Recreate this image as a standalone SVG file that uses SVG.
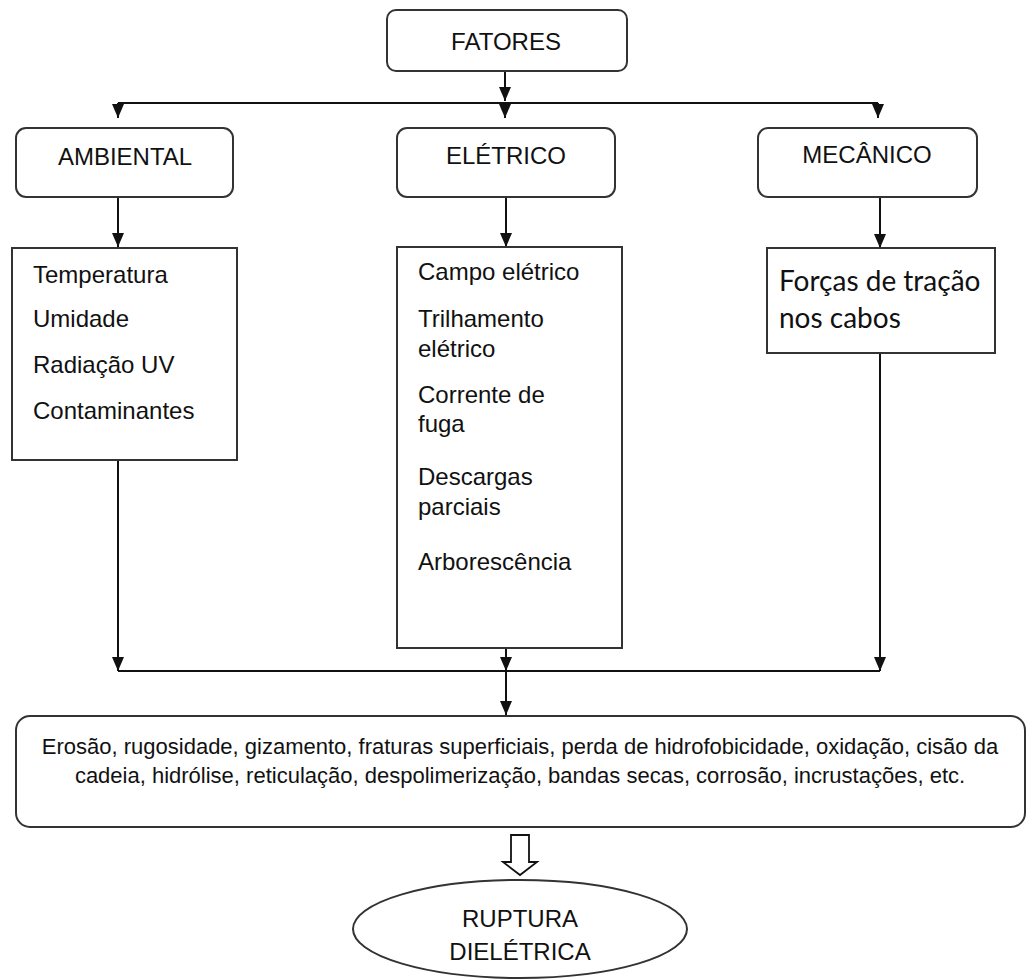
<svg xmlns="http://www.w3.org/2000/svg" width="1027" height="980" viewBox="0 0 1027 980">
<defs>
<style>
.box{fill:#fff;stroke:#333;stroke-width:2}
.t{font-family:"Liberation Sans",Arial,sans-serif;font-size:24px;fill:#111}
.tc{text-anchor:middle}
.s{font-family:Lato,"Open Sans",sans-serif;font-size:28px;fill:#111}
.b{font-family:"Liberation Sans",Arial,sans-serif;font-size:22px;fill:#111;text-anchor:middle}
.c{fill:none;stroke:#111;stroke-width:2}
</style>
<marker id="ah" viewBox="0 0 14 12" refX="14" refY="6" markerWidth="14" markerHeight="12" markerUnits="userSpaceOnUse" orient="auto">
<path d="M0,0 L14,6 L0,12 Z" fill="#111"/>
</marker>
</defs>
<rect width="1027" height="980" fill="#fff"/>
<g id="connectors">
<path class="c" d="M505,71 V101" marker-end="url(#ah)"/>
<line class="c" x1="118" y1="103" x2="878" y2="103"/>
<path class="c" d="M118,103 V118" marker-end="url(#ah)"/>
<path class="c" d="M505,103 V118" marker-end="url(#ah)"/>
<path class="c" d="M878,103 V118" marker-end="url(#ah)"/>
<path class="c" d="M118,197 V247" marker-end="url(#ah)"/>
<path class="c" d="M506,197 V247" marker-end="url(#ah)"/>
<path class="c" d="M880,197 V248" marker-end="url(#ah)"/>
<path class="c" d="M118,460 V671" marker-end="url(#ah)"/>
<path class="c" d="M506,648 V671" marker-end="url(#ah)"/>
<path class="c" d="M880,353 V671" marker-end="url(#ah)"/>
<line class="c" x1="118" y1="671" x2="880" y2="671"/>
<path class="c" d="M506,671 V715" marker-end="url(#ah)"/>
<path d="M511,835 H529 V862 H537 L520,875 L503,862 H511 Z" fill="#fff" stroke="#111" stroke-width="1.8"/>
</g>
<g id="fatores">
<rect class="box" x="387" y="10" width="240" height="61" rx="9"/>
<text class="t tc" x="506" y="50">FATORES</text>
</g>
<g id="ambiental">
<rect class="box" x="16" y="128" width="217" height="69" rx="10"/>
<text class="t tc" x="125" y="165">AMBIENTAL</text>
</g>
<g id="eletrico">
<rect class="box" x="397" y="128" width="218" height="69" rx="10"/>
<text class="t tc" x="506" y="164">ELÉTRICO</text>
</g>
<g id="mecanico">
<rect class="box" x="758" y="128" width="219" height="69" rx="10"/>
<text class="t tc" x="867" y="163">MECÂNICO</text>
</g>
<g id="ambiental-list">
<rect class="box" x="12" y="248" width="225" height="212"/>
<text class="t" x="33" y="283">Temperatura</text>
<text class="t" x="33" y="327">Umidade</text>
<text class="t" x="33" y="373">Radiação UV</text>
<text class="t" x="33" y="419">Contaminantes</text>
</g>
<g id="eletrico-list">
<rect class="box" x="397" y="247" width="225" height="401"/>
<text class="t" x="418" y="280">Campo elétrico</text>
<text class="t" x="418" y="327">Trilhamento</text>
<text class="t" x="418" y="357">elétrico</text>
<text class="t" x="418" y="403">Corrente de</text>
<text class="t" x="418" y="432">fuga</text>
<text class="t" x="418" y="485">Descargas</text>
<text class="t" x="418" y="515">parciais</text>
<text class="t" x="418" y="570">Arborescência</text>
</g>
<g id="mecanico-list">
<rect class="box" x="767" y="248" width="228" height="105"/>
<text class="s" x="779" y="291">Forças de tração</text>
<text class="s" x="779" y="328">nos cabos</text>
</g>
<g id="efeitos">
<rect class="box" x="16" y="716" width="1009" height="111" rx="14"/>
<text class="b" x="520" y="754">Erosão, rugosidade, gizamento, fraturas superficiais, perda de hidrofobicidade, oxidação, cisão da</text>
<text class="b" x="520" y="783">cadeia, hidrólise, reticulação, despolimerização, bandas secas, corrosão, incrustações, etc.</text>
</g>
<g id="ruptura">
<ellipse class="box" cx="520" cy="929" rx="167" ry="49"/>
<text class="t tc" x="520" y="927">RUPTURA</text>
<text class="t tc" x="520" y="960">DIELÉTRICA</text>
</g>
</svg>
